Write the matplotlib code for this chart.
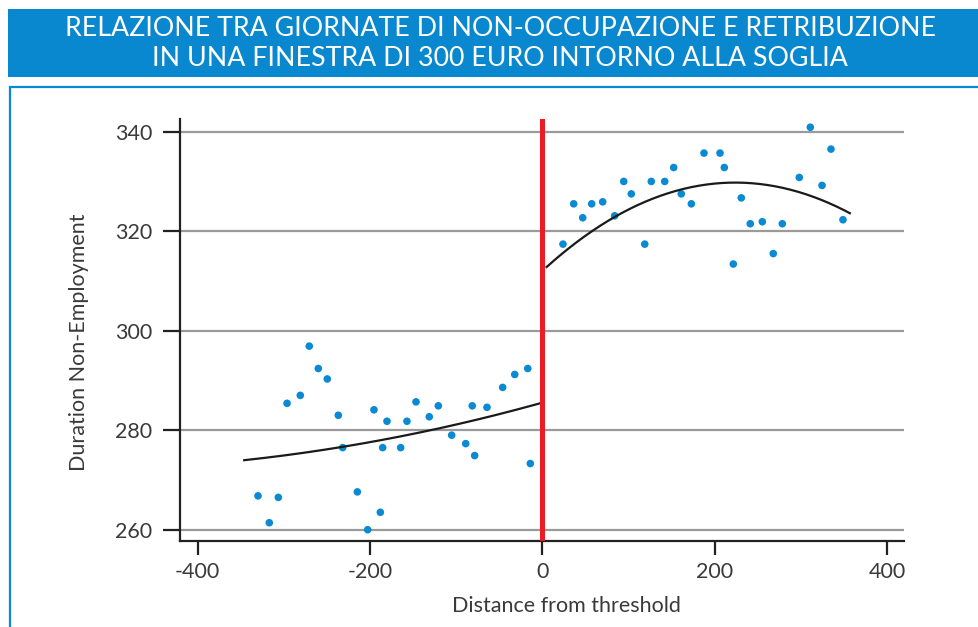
import matplotlib
matplotlib.use("Agg")
import matplotlib.pyplot as plt
import matplotlib.patches as mpatches
import numpy as np

# ---------------- data ----------------
left_x = [-330.0, -316.9, -306.4, -296.3, -280.9, -270.5, -260.0, -249.6, -236.8, -231.7,
          -214.7, -202.7, -195.4, -188.0, -185.3, -180.3, -164.4, -157.1, -146.6, -131.2,
          -120.7, -105.2, -88.9, -81.3, -78.5, -64.2, -46.0, -32.0, -16.9, -13.9]
left_y = [266.8, 261.4, 266.5, 285.4, 287.0, 296.9, 292.4, 290.3, 283.0, 276.5,
          267.6, 260.0, 284.1, 263.5, 276.5, 281.8, 276.5, 281.8, 285.7, 282.7,
          284.9, 279.0, 277.3, 284.9, 274.9, 284.6, 288.6, 291.2, 292.4, 273.3]
right_x = [24.0, 36.4, 46.9, 57.3, 70.1, 84.0, 94.5, 103.3, 118.9, 126.5,
           142.1, 152.5, 161.3, 173.0, 187.7, 206.3, 211.3, 221.7, 231.0, 241.4,
           255.4, 268.1, 278.6, 298.3, 311.1, 324.7, 335.1, 349.0]
right_y = [317.4, 325.5, 322.7, 325.5, 325.9, 323.1, 330.0, 327.5, 317.4, 330.0,
           330.0, 332.8, 327.5, 325.5, 335.7, 335.7, 332.8, 313.4, 326.7, 321.5,
           321.9, 315.5, 321.5, 330.8, 340.9, 329.2, 336.5, 322.3]
# fitted curves
fit_left_x = [-346.0, -180.0, -131.5, -64.0, 0.0]
fit_left_y = [274.0, 278.0, 280.2, 282.6, 285.5]
fit_right_x = [5.0, 84.0, 161.0, 231.0, 300.0, 357.0]
fit_right_y = [312.7, 323.2, 328.0, 329.75, 328.0, 323.5]

xticks = [-400, -200, 0, 200, 400]
yticks = [260, 280, 300, 320, 340]
title_lines = ["RELAZIONE TRA GIORNATE DI NON-OCCUPAZIONE E RETRIBUZIONE",
               "IN UNA FINESTRA DI 300 EURO INTORNO ALLA SOGLIA"]
xlabel = "Distance from threshold"
ylabel = "Duration Non-Employment"

# ---------------- style ----------------
W, H = 979, 627
BLUE = "#0a88cf"
DOT = "#0a8ad2"
RED = "#ec1c24"
TXT = "#3a3a3a"
FONT = ["Lato", "DejaVu Sans"]

fig = plt.figure(figsize=(W / 100, H / 100), dpi=100)

def fx(px):
    return px / W

def fy(py):
    return 1 - py / H

# banner
fig.patches.append(mpatches.Rectangle((fx(8), fy(77)), fx(979 - 8) + 0.01, (77 - 9) / H,
                                      transform=fig.transFigure, facecolor=BLUE,
                                      edgecolor="none", zorder=0))
# frame box
fig.patches.append(mpatches.Rectangle((fx(10), fy(700)), 1.2, (700 - 87) / H,
                                      transform=fig.transFigure, facecolor="none",
                                      edgecolor=BLUE, linewidth=1.6, zorder=0))

fig.text(fx(501), fy(28.5), title_lines[0], color="white", fontsize=19.3,
         family=FONT, ha="center", va="center")
fig.text(fx(500), fy(58.5), title_lines[1], color="white", fontsize=19.3,
         family=FONT, ha="center", va="center")

ax = fig.add_axes([fx(180.3), fy(541.3), (904.3 - 180.3) / W, (541.3 - 119) / H])
ax.set_xlim(-420.2, 420.2)
ax.set_ylim(257.67, 342.55)

for v in yticks:
    ax.axhline(v, color="#9a9a9a", lw=1.6, zorder=1)

ax.axvline(0, color=RED, lw=3.6, zorder=4)

ax.scatter(left_x, left_y, s=30, color=DOT, edgecolors="none", zorder=3)
ax.scatter(right_x, right_y, s=30, color=DOT, edgecolors="none", zorder=3)

cl = np.polyfit(fit_left_x, fit_left_y, 2)
xl = np.linspace(fit_left_x[0], fit_left_x[-1], 200)
ax.plot(xl, np.polyval(cl, xl), color="#1a1a1a", lw=1.6, zorder=3)
cr = np.polyfit(fit_right_x, fit_right_y, 3)
xr = np.linspace(fit_right_x[0], fit_right_x[-1], 200)
ax.plot(xr, np.polyval(cr, xr), color="#1a1a1a", lw=1.6, zorder=3)

for s in ["top", "right"]:
    ax.spines[s].set_visible(False)
for s in ["left", "bottom"]:
    ax.spines[s].set_linewidth(1.6)
    ax.spines[s].set_color("#222222")

ax.set_xticks(xticks)
ax.set_yticks(yticks)
ax.set_xticklabels([str(v) for v in xticks])
ax.set_yticklabels([str(v) for v in yticks])
ax.tick_params(axis="y", length=12, width=1.6, color="#222222", pad=8,
               labelsize=15.5, labelcolor=TXT)
ax.tick_params(axis="x", length=10, width=1.6, color="#222222", pad=5,
               labelsize=15.5, labelcolor=TXT)
for lab in ax.get_xticklabels() + ax.get_yticklabels():
    lab.set_family(FONT)

fig.text(fx(566), fy(606), xlabel, fontsize=15.5, color=TXT, family=FONT,
         ha="center", va="center")
fig.text(fx(79), fy(342.5), ylabel, fontsize=15.5, color=TXT, family=FONT,
         ha="center", va="center", rotation=90)

fig.savefig("out.png", dpi=100)
